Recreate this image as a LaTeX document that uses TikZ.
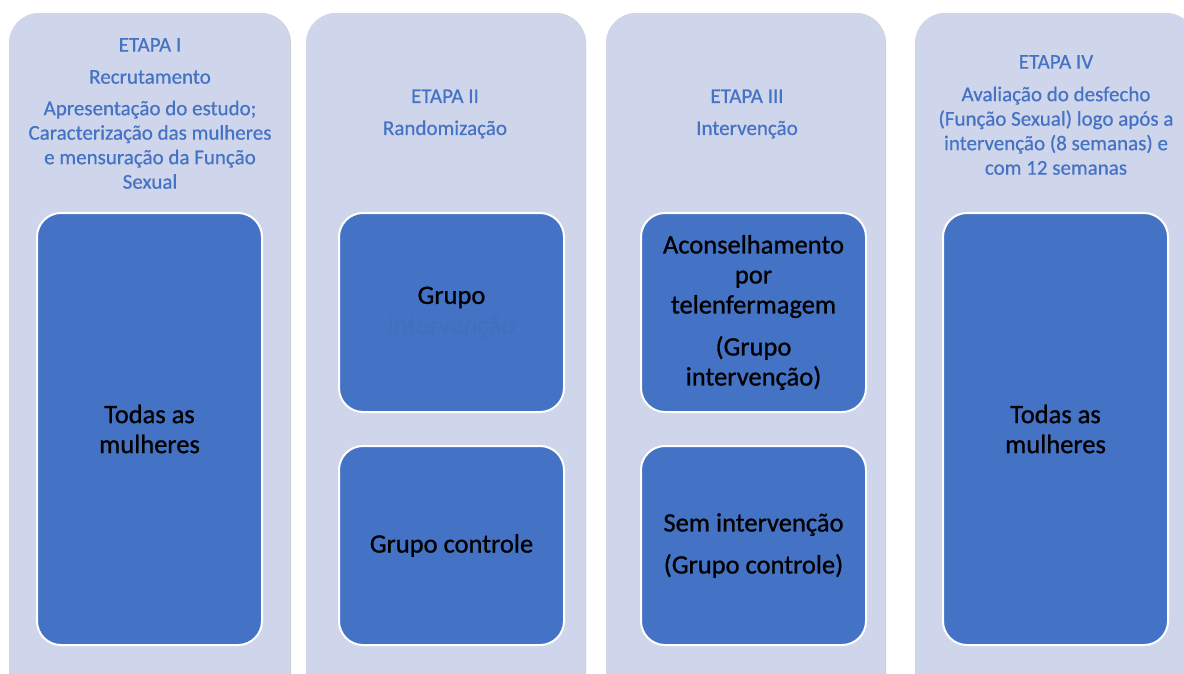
\documentclass[tikz,border=0pt]{standalone}
\usepackage{fontspec}
\setmainfont{Carlito}
\newfontfamily\heavyfont{Carlito}[FakeBold=0.9]
\newfontfamily\headfont{Carlito}[FakeBold=0.5]
\definecolor{panelfill}{HTML}{CFD5EA}
\definecolor{boxfill}{HTML}{4472C4}
\definecolor{headcol}{HTML}{4472C4}
\definecolor{faint}{HTML}{4070BE}
\begin{document}
\begin{tikzpicture}[x=1pt,y=-1pt,
  panel/.style={fill=panelfill, rounded corners=30pt},
  pshadow/.style={fill=black!18, rounded corners=30pt},
  head/.style={text=headcol, align=center, inner sep=0pt,
    font=\headfont\fontsize{21}{24.5}\selectfont},
  bluebox/.style={fill=boxfill, draw=white, line width=2pt, rounded corners=24pt,
    minimum width=225pt, align=center, inner sep=0pt,
    font=\heavyfont\fontsize{26.5}{30}\selectfont, text=black},
  smallbox/.style={bluebox, minimum height=199pt},
  tallbox/.style={bluebox, minimum height=432pt}]
\useasboundingbox (0,0) rectangle (1184,673);
\clip (0,0) rectangle (1184,673);
\fill[white] (0,0) rectangle (1184,673);
% panels
\path[pshadow] (10,13) rectangle (291,720);
\path[pshadow] (307,13) rectangle (586,720);
\path[pshadow] (607,13) rectangle (886,720);
\path[pshadow] (916,13) rectangle (1196,720);
\path[panel] (9,13) rectangle (290,720);
\path[panel] (306,13) rectangle (585,720);
\path[panel] (606,13) rectangle (885,720);
\path[panel] (915,13) rectangle (1195,720);
% headers
\node[head] (h1) at (150,113.5) {ETAPA I\\[7.5pt]Recrutamento\\[7pt]Apresentação do estudo;\\Caracterização das mulheres\\e mensuração da Função\\Sexual};
\node[head] (h2) at (445,114) {ETAPA II\\[7.5pt]Randomização};
\node[head] (h3) at (747,114) {ETAPA III\\[7.5pt]Intervenção};
\node[head] (h4) at (1056,115) {ETAPA IV\\[8pt]Avaliação do desfecho\\(Função Sexual) logo após a\\intervenção (8 semanas) e\\com 12 semanas};
% boxes
\node[tallbox] (b1) at (149.5,429) {Todas as\\mulheres};
\node[smallbox] (b2a) at (451.5,312.5) {Grupo\\{\color{faint}intervenção}};
\node[smallbox] (b2b) at (451.5,545.5) {Grupo controle};
\node[smallbox] (b3a) at (753.5,312.5) {Aconselhamento\\por\\telenfermagem\\[12pt](Grupo\\intervenção)};
\node[smallbox] (b3b) at (753.5,545.5) {Sem intervenção\\[12pt](Grupo controle)};
\node[tallbox] (b4) at (1055.5,429) {Todas as\\mulheres};
\end{tikzpicture}
\end{document}
